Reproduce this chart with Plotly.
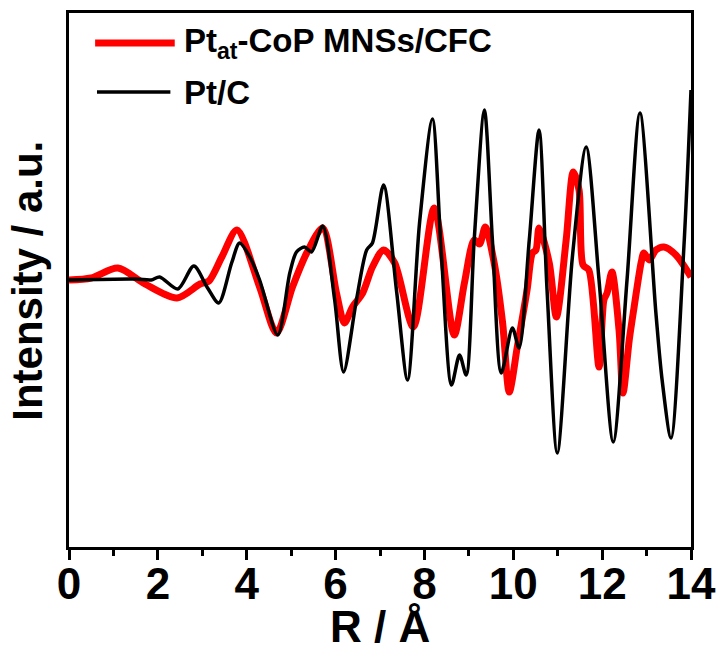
import plotly.graph_objects as go

# Pt_at-CoP MNSs/CFC (red) : R (Å) and intensity (a.u.)
red_r = [0.0, 0.5, 1.10, 1.71, 2.43, 2.95, 3.15, 3.44, 3.78, 4.29, 4.67, 5.03, 5.35, 5.71,
         6.02, 6.20, 6.38, 6.61, 6.83, 7.08, 7.33, 7.75, 8.22, 8.67, 8.90, 9.12, 9.24, 9.37,
         9.57, 9.76, 9.91, 10.09, 10.31, 10.43, 10.51, 10.58, 10.81, 10.97, 11.19, 11.35,
         11.48, 11.57, 11.70, 11.93, 12.04, 12.11, 12.22, 12.38, 12.47, 12.61, 12.72, 12.88,
         12.94, 13.06, 13.21, 13.39, 13.66, 14.0]
red_v = [0.0, 0.02, 0.12, -0.04, -0.18, -0.04, -0.01, 0.23, 0.50, -0.07, -0.53, -0.07, 0.27, 0.52,
         -0.13, -0.43, -0.27, -0.13, 0.13, 0.30, 0.17, -0.47, 0.72, -0.55, -0.03, 0.40, 0.36, 0.53,
         0.17, -0.43, -1.12, -0.67, -0.10, 0.27, 0.30, 0.52, 0.17, -0.37, 0.40, 1.08,
         0.90, 0.15, 0.10, -0.87, -0.20, -0.13, 0.08, -0.50, -1.13, -0.60, -0.27, 0.18,
         0.27, 0.20, 0.30, 0.33, 0.25, 0.03]

# Pt/C (black)
blk_r = [0.0, 1.5, 1.85, 2.04, 2.45, 2.81, 3.12, 3.37, 3.66, 3.84, 4.07, 4.29, 4.70, 4.97,
         5.12, 5.30, 5.46, 5.71, 5.98, 6.18, 6.47, 6.70, 6.83, 7.08, 7.37, 7.62, 7.89, 8.18,
         8.38, 8.61, 8.79, 8.94, 9.12, 9.35, 9.53, 9.73, 9.98, 10.13, 10.36, 10.58, 10.76,
         10.99, 11.33, 11.64, 11.93, 12.25, 12.56, 12.85, 13.21, 13.35, 13.55, 13.84, 14.0]
blk_v = [0.0, 0.01, 0.0, 0.03, -0.09, 0.14, -0.08, -0.23, 0.17, 0.37, 0.23, 0.0, -0.55, 0.07,
         0.28, 0.33, 0.28, 0.54, -0.20, -0.92, -0.20, 0.30, 0.37, 0.95, -0.10, -1.00, 0.57, 1.61,
         0.27, -1.05, -0.75, -0.95, 0.40, 1.70, 0.40, -0.93, -0.48, -0.68, 0.40, 1.50, -0.10,
         -1.73, 0.23, 1.33, 0.0, -1.62, 0.0, 1.67, -0.33, -1.0, -1.58, 0.33, 1.90]

x_ticks = [0, 2, 4, 6, 8, 10, 12, 14]
legend_names = ["Pt<sub>at</sub>-CoP MNSs/CFC", "Pt/C"]
x_title = "R / Å"
y_title = "Intensity / a.u."

FONT = "Liberation Sans, Arial, sans-serif"

fig = go.Figure()
fig.add_trace(go.Scatter(x=red_r, y=red_v, mode="lines", name=legend_names[0],
                         line=dict(color="#FF0000", width=7, shape="spline", smoothing=0.8),
                         showlegend=False))
fig.add_trace(go.Scatter(x=blk_r, y=blk_v, mode="lines", name=legend_names[1],
                         line=dict(color="#000000", width=3.5, shape="spline", smoothing=0.8),
                         showlegend=False))

# manual legend (long line samples as in the reference)
leg_rows = [(0.944, "#FF0000", 7, 0.042, 0.170), (0.852, "#000000", 3.5, 0.045, 0.163)]
for (yy, col, w, x0, x1), name in zip(leg_rows, legend_names):
    fig.add_shape(type="line", xref="paper", yref="paper", x0=x0, x1=x1, y0=yy, y1=yy,
                  line=dict(color=col, width=w))
    fig.add_annotation(xref="paper", yref="paper", x=0.181, y=yy, text=name, showarrow=False,
                       xanchor="left", yanchor="middle",
                       font=dict(family=FONT, size=33, color="black", weight="bold"))

# axis titles
fig.add_annotation(xref="paper", yref="paper", x=0.5, y=-0.148, text=x_title, showarrow=False,
                   xanchor="center", yanchor="middle",
                   font=dict(family=FONT, size=44, color="black", weight="bold"))
fig.add_annotation(xref="paper", yref="paper", x=-0.068, y=0.498, text=y_title, showarrow=False,
                   textangle=-90, xanchor="center", yanchor="middle",
                   font=dict(family=FONT, size=42, color="black", weight="bold"))

fig.update_layout(
    width=721, height=657,
    margin=dict(l=69, r=30, t=13, b=110),
    paper_bgcolor="white", plot_bgcolor="white",
    font=dict(family=FONT, color="black"),
)
fig.update_xaxes(
    range=[0, 14], tickvals=x_ticks, ticktext=[str(t) for t in x_ticks],
    ticks="outside", ticklen=10, tickwidth=3, tickcolor="black",
    minor=dict(dtick=1, ticks="outside", ticklen=6, tickwidth=3, tickcolor="black"),
    showline=True, linewidth=3, linecolor="black", mirror=True,
    showgrid=False, zeroline=False, automargin=False,
    ticklabelstandoff=-14,
    tickfont=dict(family=FONT, size=44, color="black", weight="bold"),
)
fig.update_yaxes(
    range=[-2.67, 2.67], showticklabels=False, ticks="",
    showline=True, linewidth=3, linecolor="black", mirror=True,
    showgrid=False, zeroline=False, automargin=False,
)

fig.write_html("out.html")
